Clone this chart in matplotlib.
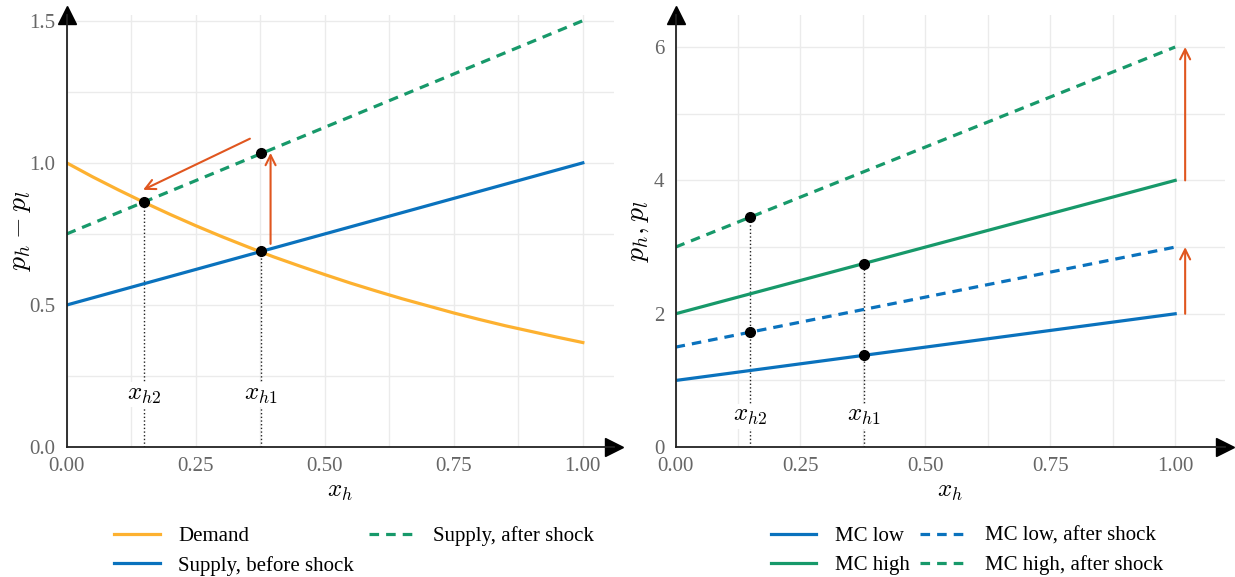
import matplotlib
matplotlib.use("Agg")
import matplotlib.pyplot as plt
from matplotlib.ticker import MultipleLocator

plt.rcParams['font.family'] = ['Liberation Serif', 'DejaVu Serif']
plt.rcParams['mathtext.fontset'] = 'cm'

# left panel: relative price vs share of high types
x_grid = [0.0, 0.05, 0.1, 0.15, 0.2, 0.25, 0.3, 0.35, 0.4, 0.45, 0.5,
          0.55, 0.6, 0.65, 0.7, 0.75, 0.8, 0.85, 0.9, 0.95, 1.0]
demand = [1.0, 0.951, 0.905, 0.861, 0.819, 0.779, 0.741, 0.705, 0.670, 0.638, 0.607,
          0.577, 0.549, 0.522, 0.497, 0.472, 0.449, 0.427, 0.407, 0.387, 0.368]
x_ends = [0.0, 1.0]
supply_before = [0.5, 1.0]
supply_after = [0.75, 1.5]
x_h1 = 0.377
x_h2 = 0.15
eq_before = 0.689
eq_after = 0.862
shifted_h1 = 1.033

# right panel: marginal costs
mc_low = [1.0, 2.0]
mc_low_after = [1.5, 3.0]
mc_high = [2.0, 4.0]
mc_high_after = [3.0, 6.0]
mc_low_h1, mc_high_h1 = 1.377, 2.754
mc_low_h2, mc_high_h2 = 1.725, 3.45

ORANGE = '#fdb130'
BLUE = '#0a72bd'
GREEN = '#17996a'
RED = '#e0561f'
GRID = '#ebebeb'


def style_axes(ax, xmax, ymax):
    ax.set_xlim(0, xmax)
    ax.set_ylim(0, ymax)
    for s in ['top', 'right']:
        ax.spines[s].set_visible(False)
    for s in ['left', 'bottom']:
        ax.spines[s].set_linewidth(1.3)
        ax.spines[s].set_color('#222222')
    ax.plot(1, 0, '>', color='black', ms=13, transform=ax.transAxes, clip_on=False)
    ax.plot(0, 1, '^', color='black', ms=13, transform=ax.transAxes, clip_on=False)
    ax.xaxis.set_major_locator(MultipleLocator(0.25))
    ax.xaxis.set_minor_locator(MultipleLocator(0.125))
    ax.grid(which='both', color=GRID, lw=1)
    ax.set_axisbelow(True)
    ax.tick_params(which='both', length=0, labelsize=15, labelcolor='#666666')
    ax.tick_params(axis='x', pad=7)
    ax.tick_params(axis='y', pad=8)
    ax.set_xlabel('$x_h$', fontsize=18, labelpad=4)


fig = plt.figure(figsize=(12.35, 5.77), dpi=100)
ax1 = fig.add_axes([0.054, 0.225, 0.443, 0.749])
ax2 = fig.add_axes([0.547, 0.225, 0.445, 0.749])

legend_kw = dict(loc='upper center', ncol=2, frameon=False, fontsize=15,
                 handlelength=2.2, handletextpad=0.9, labelspacing=0.45)

# ---- left
style_axes(ax1, 1.06, 1.52)
ax1.yaxis.set_major_locator(MultipleLocator(0.5))
ax1.yaxis.set_minor_locator(MultipleLocator(0.25))
ax1.yaxis.set_major_formatter(lambda v, p: f'{v:.1f}')
ax1.xaxis.set_major_formatter(lambda v, p: f'{v:.2f}')

ax1.plot(x_grid, demand, color=ORANGE, lw=2.3, label='Demand')
ax1.plot(x_ends, supply_before, color=BLUE, lw=2.3, label='Supply, before shock')
ax1.plot(x_ends, supply_after, color=GREEN, lw=2.3, ls=(0, (3, 2.2)), label='Supply, after shock')

ax1.plot([x_h1, x_h1], [0, eq_before], ':', color='#222222', lw=1, zorder=1)
ax1.plot([x_h2, x_h2], [0, eq_after], ':', color='#222222', lw=1, zorder=1)
ax1.plot([x_h1, x_h2, x_h1], [eq_before, eq_after, shifted_h1], 'o', color='black', ms=7, zorder=5)
ax1.text(x_h2, 0.185, '$x_{h2}$', fontsize=18, ha='center', va='center',
         bbox=dict(fc='white', ec='none', pad=1))
ax1.text(x_h1, 0.185, '$x_{h1}$', fontsize=18, ha='center', va='center',
         bbox=dict(fc='white', ec='none', pad=1))

arrow = dict(arrowstyle='->', color=RED, lw=1.5, mutation_scale=18, shrinkA=0, shrinkB=0)
ax1.annotate('', xy=(0.395, 1.035), xytext=(0.395, 0.715), arrowprops=arrow)
ax1.annotate('', xy=(0.148, 0.905), xytext=(0.355, 1.085), arrowprops=arrow)
ax1.set_ylabel('$p_h - p_l$', fontsize=20)
ax1.yaxis.set_label_coords(-0.062, 0.5)

ax1.legend(bbox_to_anchor=(0.525, -0.14), columnspacing=0.7, **legend_kw)

# ---- right
style_axes(ax2, 1.1, 6.48)
ax2.yaxis.set_major_locator(MultipleLocator(2))
ax2.yaxis.set_minor_locator(MultipleLocator(1))
ax2.yaxis.set_major_formatter(lambda v, p: f'{v:.0f}')
ax2.xaxis.set_major_formatter(lambda v, p: f'{v:.2f}')

ax2.plot(x_ends, mc_low, color=BLUE, lw=2.3, label='MC low')
ax2.plot(x_ends, mc_high, color=GREEN, lw=2.3, label='MC high')
ax2.plot(x_ends, mc_low_after, color=BLUE, lw=2.3, ls=(0, (3, 2.2)), label='MC low, after shock')
ax2.plot(x_ends, mc_high_after, color=GREEN, lw=2.3, ls=(0, (3, 2.2)), label='MC high, after shock')

ax2.plot([x_h1, x_h1], [0, mc_high_h1], ':', color='#222222', lw=1, zorder=1)
ax2.plot([x_h2, x_h2], [0, mc_high_h2], ':', color='#222222', lw=1, zorder=1)
ax2.plot([x_h1, x_h1, x_h2, x_h2], [mc_low_h1, mc_high_h1, mc_low_h2, mc_high_h2],
         'o', color='black', ms=7, zorder=5)
ax2.text(x_h2, 0.46, '$x_{h2}$', fontsize=18, ha='center', va='center',
         bbox=dict(fc='white', ec='none', pad=1))
ax2.text(x_h1, 0.46, '$x_{h1}$', fontsize=18, ha='center', va='center',
         bbox=dict(fc='white', ec='none', pad=1))

ax2.annotate('', xy=(1.02, mc_low_after[1]), xytext=(1.02, mc_low[1]), arrowprops=arrow)
ax2.annotate('', xy=(1.02, mc_high_after[1]), xytext=(1.02, mc_high[1]), arrowprops=arrow)
ax2.set_ylabel('$p_h, p_l$', fontsize=20)
ax2.yaxis.set_label_coords(-0.045, 0.5)

ax2.legend(bbox_to_anchor=(0.53, -0.14), columnspacing=0.5, **legend_kw)

fig.savefig('out.png', dpi=100)
